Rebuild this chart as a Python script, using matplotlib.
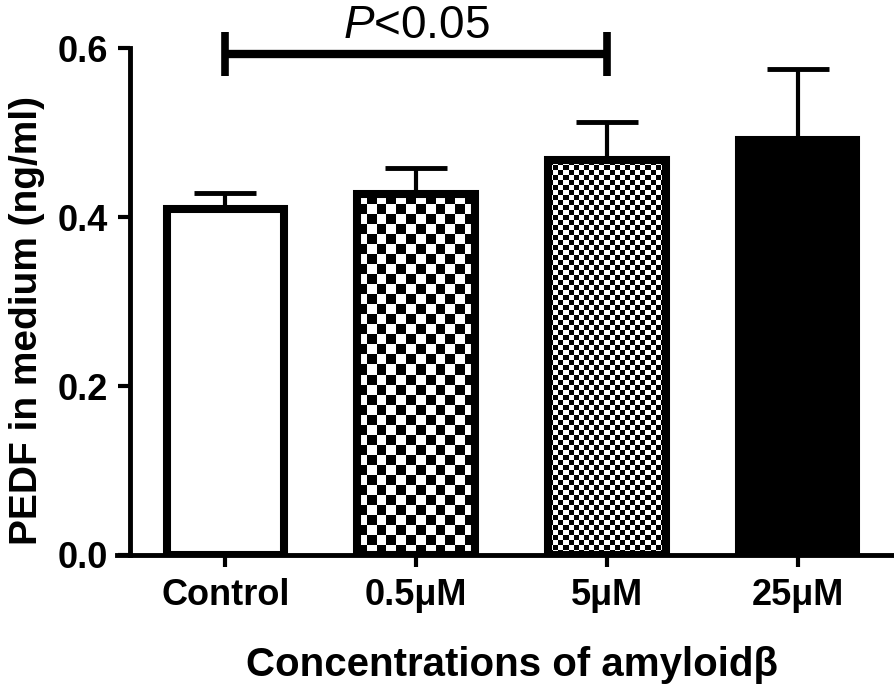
import numpy as np
import matplotlib
matplotlib.use("Agg")
import matplotlib.pyplot as plt

plt.rcParams['font.family'] = ['Liberation Sans', 'DejaVu Sans']
plt.rcParams['mathtext.fontset'] = 'custom'
plt.rcParams['mathtext.rm'] = 'Liberation Sans'
plt.rcParams['mathtext.it'] = 'Liberation Sans:italic'

# data
groups = ["Control", "0.5μM", "5μM", "25μM"]
means = [0.410, 0.427, 0.467, 0.491]
sems = [0.019, 0.031, 0.046, 0.084]
patterns = ["white", "check_big", "check_small", "black"]
sig_pair = (0, 2)
sig_text = r"$\mathit{P}$<0.05"

fig = plt.figure(figsize=(8.94, 6.89), dpi=100)
ax = fig.add_axes([0.1454, 0.1945, 0.8535, 0.7358])
ax.set_xlim(-0.5, 3.5)
ax.set_ylim(0, 0.6)

x = np.arange(len(groups))
bars = ax.bar(x, means, width=0.615, facecolor="none", edgecolor="black",
              linewidth=5.8, zorder=3)

ax.errorbar(x, means, yerr=[np.zeros(len(sems)), sems], fmt="none",
            ecolor="black", elinewidth=3, capsize=22, capthick=3.5, zorder=2.5)

check_px = {"check_big": 10, "check_small": 5}
for bar, pat in zip(bars, patterns):
    x0 = bar.get_x()
    x1 = x0 + bar.get_width()
    h = bar.get_height()
    if pat in ("white", "black"):
        bar.set_facecolor(pat)
        continue
    p0 = ax.transData.transform((x0, 0))
    p1 = ax.transData.transform((x1, h))
    sq = check_px[pat]
    nx = max(1, int(round((p1[0] - p0[0]) / sq)))
    ny = max(1, int(round((p1[1] - p0[1]) / sq)))
    board = np.indices((ny, nx)).sum(axis=0) % 2
    im = ax.imshow(board, cmap="gray", interpolation="nearest", aspect="auto",
                   extent=[x0, x1, 0, h], origin="lower", zorder=2)
    im.set_clip_path(bar)

ax.set_xlim(-0.5, 3.5)
ax.set_ylim(0, 0.6)

# significance bracket
ya = 0.593
xa, xb = sig_pair
ax.plot([xa, xb], [ya, ya], color="black", lw=6, clip_on=False,
        solid_capstyle="butt", zorder=4)
for xv in sig_pair:
    ax.plot([xv, xv], [ya - 0.026, ya + 0.026], color="black", lw=5.5,
            clip_on=False, solid_capstyle="butt", zorder=4)
ax.text((xa + xb) / 2, 0.626, sig_text, ha="center", va="center",
        fontsize=33, clip_on=False)

# axes styling
for s in ["top", "right"]:
    ax.spines[s].set_visible(False)
ax.spines["left"].set_linewidth(3.5)
ax.spines["bottom"].set_linewidth(3.5)
ax.spines["bottom"].set_bounds(-0.57, 3.5)

ax.set_yticks([0.0, 0.2, 0.4, 0.6])
ax.set_yticklabels(["0.0", "0.2", "0.4", "0.6"])
ax.set_xticks(x)
ax.set_xticklabels(groups)
ax.tick_params(axis="both", length=8.5, width=3, labelsize=26, direction="out")
ax.tick_params(axis="y", pad=7)
ax.tick_params(axis="x", pad=8)
for lab in ax.get_xticklabels() + ax.get_yticklabels():
    lab.set_fontweight("bold")

ax.set_ylabel("PEDF in medium (ng/ml)", fontsize=28, fontweight="bold", va="center")
ax.yaxis.set_label_coords(-0.135, 0.4635)
ax.set_xlabel("Concentrations of amyloidβ", fontsize=29, fontweight="bold", va="center")
ax.xaxis.set_label_coords(0.5, -0.217)

fig.savefig("out.png", dpi=100)
